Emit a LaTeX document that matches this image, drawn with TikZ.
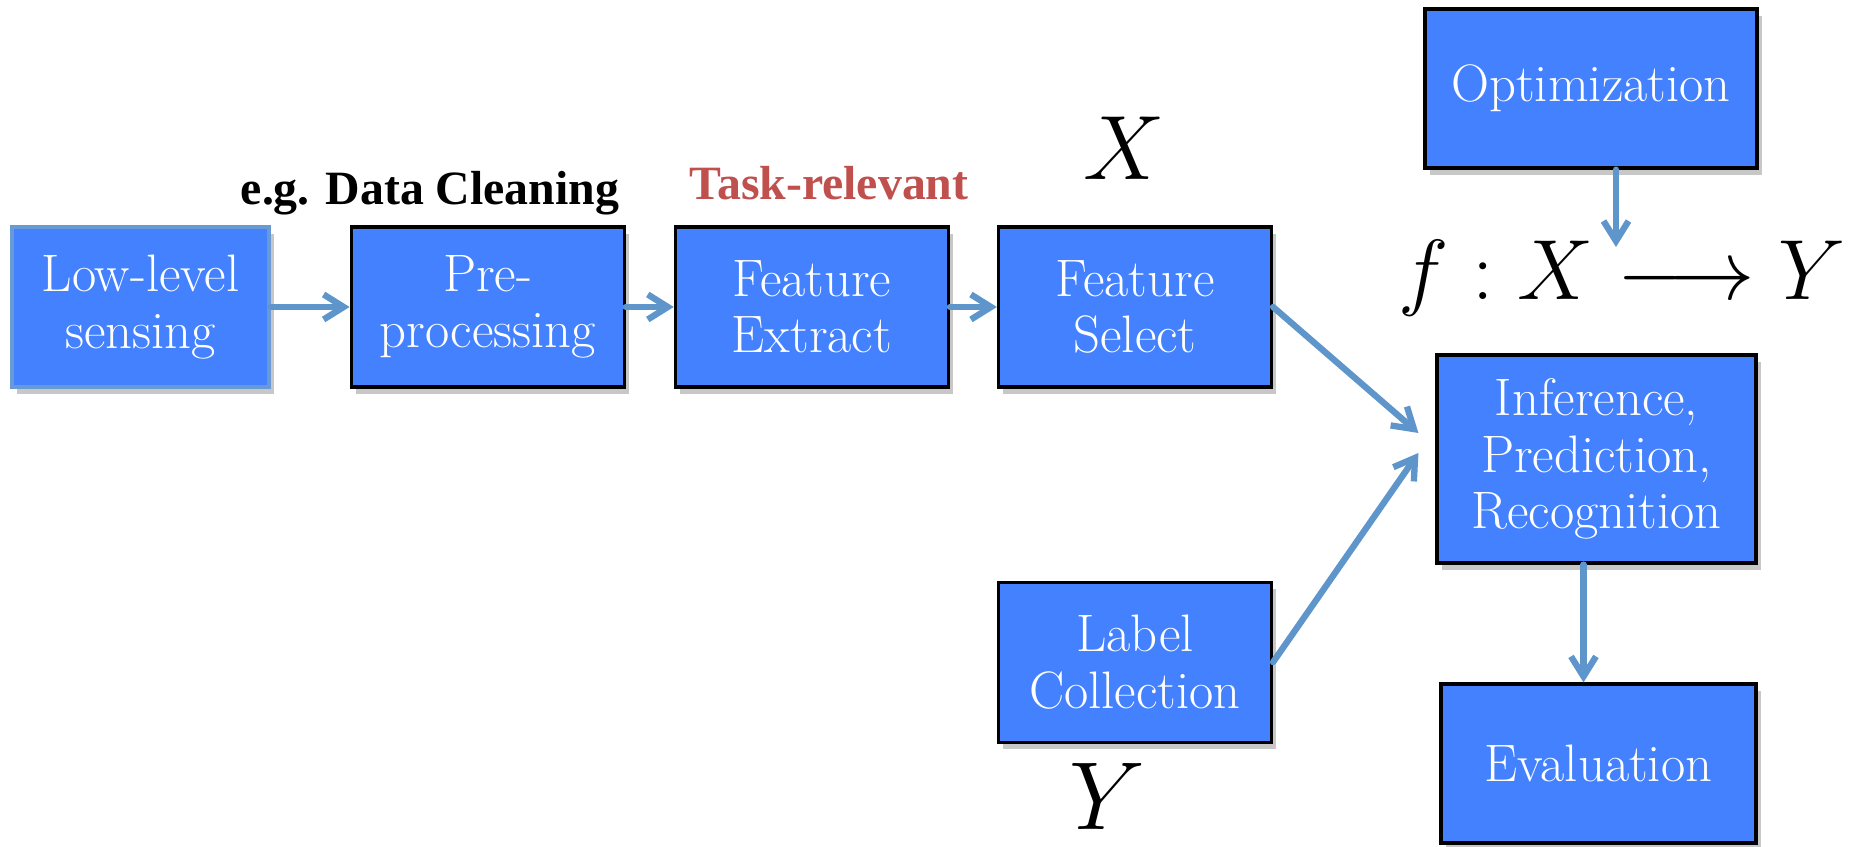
\documentclass[tikz,border=0pt]{standalone}
\usepackage{fix-cm}
\usepackage{fontspec}
\newfontfamily\notefont{Liberation Serif}
\usepackage{tikz}
\usetikzlibrary{positioning, arrows.meta, calc, shadows}
\definecolor{clrblock}{HTML}{4381FF}
\definecolor{clrborder}{HTML}{000000}
\definecolor{clrborder_alt}{HTML}{6A9AD6}
\definecolor{clrarrow}{HTML}{5E95CA}
\definecolor{clrnote}{HTML}{C0504D}
\definecolor{clrtext}{HTML}{000000}

\begin{document}
\begin{tikzpicture}[
    block/.style={draw=clrborder, fill=clrblock, text=white, line width=0.9pt,
                  minimum width=2.73cm, minimum height=1.6cm, inner sep=0pt, align=center,
                  font=\fontsize{15}{16}\selectfont,
                  drop shadow={shadow xshift=0.5mm, shadow yshift=-0.7mm, fill=black, opacity=0.22}},
    arrow/.style={-{Straight Barb[length=2mm, width=2.5mm]}, line width=1.8pt, color=clrarrow, line cap=round},
    notetext/.style={font=\notefont\bfseries\fontsize{13.6}{16}\selectfont, text=clrtext, inner sep=0pt},
    mathtext/.style={inner sep=0pt, text=clrtext},
]
\useasboundingbox (0,0) rectangle (18.58,-8.47);
\node[block, draw=clrborder_alt, minimum width=2.57cm] (n_1) at (1.405,-3.07) {Low-level\\sensing};
\node[block, right=0.79cm of n_1] (n_2) {Pre-\\processing};
\node[block, right=0.48cm of n_2] (n_3) {Feature\\Extract};
\node[block, right=0.47cm of n_3] (n_4) {Feature\\Select};
\node[block, below=1.92cm of n_4] (n_5) {Label\\Collection};
\node[block, minimum width=3.19cm, minimum height=2.08cm] (n_6) at (15.965,-4.59) {Inference,\\Prediction,\\Recognition};
\node[block, minimum width=3.32cm, minimum height=1.59cm] (n_7) at (15.91,-0.885) {Optimization};
\node[block, minimum width=3.15cm, minimum height=1.59cm] (n_8) at (15.985,-7.635) {Evaluation};
\node[mathtext, anchor=base, font=\fontsize{24.3}{28}\selectfont] (n_9) at (16.22,-3.00) {$f : X \longrightarrow Y$};
\node[notetext, anchor=base] (t_1) at (4.30,-2.05) {e.g. Data Cleaning};
\node[notetext, text=clrnote, anchor=base] (t_2) at (8.29,-2.00) {Task-relevant};
\node[mathtext, anchor=base, font=\fontsize{26}{30}\selectfont] (t_3) at (11.24,-1.80) {$X$};
\node[mathtext, anchor=base, font=\fontsize{27.5}{32}\selectfont] (t_4) at (11.07,-8.30) {$Y$};
\draw[arrow] (n_1.east) -- (n_2.west);
\draw[arrow] (n_2.east) -- (n_3.west);
\draw[arrow] (n_3.east) -- (n_4.west);
\draw[arrow] (n_4.east) -- ([xshift=-1.7mm, yshift=2.6mm]n_6.west);
\draw[arrow] (n_5.east) -- ([xshift=-1.7mm, yshift=0.6mm]n_6.west);
\draw[arrow] ($(n_7.south)+(0.25,0)$) -- ($(n_7.south |- n_9.north)+(0.25,-0.07)$);
\draw[arrow] ($(n_6.south)+(-0.13,0)$) -- ($(n_6.south |- n_8.north)+(-0.13,0)$);
\end{tikzpicture}
\end{document}
